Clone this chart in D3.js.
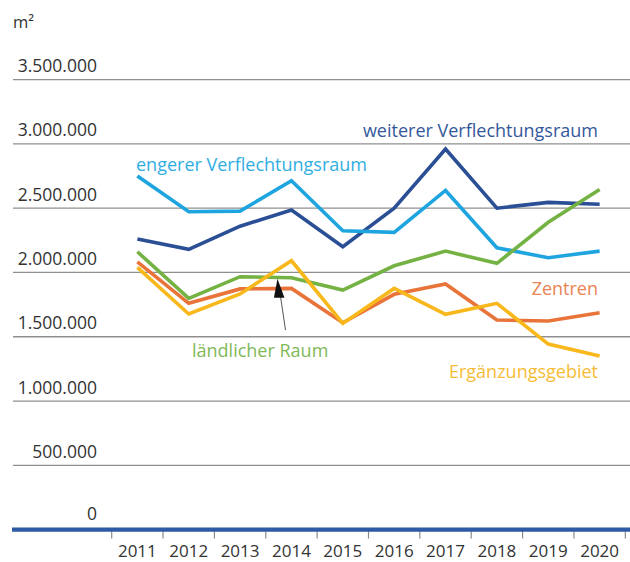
<!DOCTYPE html>
<html>
<head>
<meta charset="utf-8">
<script src="https://cdn.jsdelivr.net/npm/d3@7"></script>
<style>
  html, body { margin: 0; padding: 0; background: #fff; }
  svg { display: block; font-family: "Open Sans", "Noto Sans", sans-serif; }
</style>
</head>
<body>
<svg id="chart" width="630" height="562"></svg>
<script>
// Flächenzahlen (m²) nach Teilraum, 2011–2020
const years = ["2011", "2012", "2013", "2014", "2015", "2016", "2017", "2018", "2019", "2020"];

const weitererVerflechtungsraum = [2260000, 2180000, 2360000, 2485000, 2200000, 2500000, 2960000, 2500000, 2545000, 2530000];
const engererVerflechtungsraum  = [2750000, 2472000, 2477000, 2713000, 2324000, 2312000, 2638000, 2192000, 2114000, 2166000];
const zentren                   = [2083000, 1760000, 1872000, 1876000, 1609000, 1830000, 1910000, 1630000, 1622000, 1687000];
const laendlicherRaum           = [2161000, 1799000, 1967000, 1959000, 1863000, 2052000, 2166000, 2071000, 2390000, 2646000];
const ergaenzungsgebiet         = [2040000, 1677000, 1833000, 2091000, 1604000, 1876000, 1674000, 1760000, 1443000, 1350000];

const yTicks = [0, 500000, 1000000, 1500000, 2000000, 2500000, 3000000, 3500000];
const yTickLabels = ["0", "500.000", "1.000.000", "1.500.000", "2.000.000", "2.500.000", "3.000.000", "3.500.000"];
const unitLabel = "m²";

const series = [
  { name: "weiterer Verflechtungsraum", values: weitererVerflechtungsraum, color: "#2b4f95", text: "#34589c" },
  { name: "engerer Verflechtungsraum",  values: engererVerflechtungsraum,  color: "#1ea5df", text: "#30aee2" },
  { name: "Zentren",                    values: zentren,                   color: "#e8743a", text: "#e98453" },
  { name: "ländlicher Raum",            values: laendlicherRaum,           color: "#74b244", text: "#80b958" },
  { name: "Ergänzungsgebiet",           values: ergaenzungsgebiet,         color: "#f8b81c", text: "#f6bc35" }
];

const svg = d3.select("#chart");

const x = d3.scaleBand().domain(years).range([111.7, 625.3]).padding(0);
const y = d3.scaleLinear().domain([0, 3500000]).range([529.6, 79.6]);
const cx = d => x(d) + x.bandwidth() / 2;

// unit label
svg.append("text")
  .attr("x", 13).attr("y", 28)
  .attr("font-size", 16.5).attr("fill", "#333")
  .text(unitLabel);

// horizontal grid with value labels
const grid = svg.append("g");
grid.selectAll("line")
  .data(yTicks.filter(v => v > 0))
  .join("line")
  .attr("x1", 13).attr("x2", 630)
  .attr("y1", d => y(d)).attr("y2", d => y(d))
  .attr("stroke", "#8f8f8f").attr("stroke-width", 1.3);

grid.selectAll("text")
  .data(yTicks)
  .join("text")
  .attr("x", 97)
  .attr("y", d => y(d) - (d === 0 ? 9.5 : 7.5))
  .attr("text-anchor", "end")
  .attr("font-size", 17.5)
  .attr("fill", "#333")
  .text((d, i) => yTickLabels[i]);

// year axis: ticks at band boundaries, labels centred in each band
const edges = years.map(d => x(d)).concat([x.range()[1]]);
svg.append("g").selectAll("line")
  .data(edges)
  .join("line")
  .attr("x1", d => d).attr("x2", d => d)
  .attr("y1", 530).attr("y2", 538.5)
  .attr("stroke", "#8a8a8a").attr("stroke-width", 1.2);

svg.append("g").selectAll("text")
  .data(years)
  .join("text")
  .attr("x", d => cx(d))
  .attr("y", 557)
  .attr("text-anchor", "middle")
  .attr("font-size", 17)
  .attr("fill", "#333")
  .text(d => d);

// baseline
svg.append("line")
  .attr("x1", 12).attr("x2", 630)
  .attr("y1", y(0)).attr("y2", y(0))
  .attr("stroke", "#2c5aa3").attr("stroke-width", 4.2);

// series lines
const line = d3.line()
  .x((v, i) => cx(years[i]))
  .y(v => y(v));

const drawOrder = ["weiterer Verflechtungsraum", "engerer Verflechtungsraum", "Zentren", "ländlicher Raum", "Ergänzungsgebiet"];
svg.append("g").selectAll("path")
  .data(drawOrder.map(n => series.find(s => s.name === n)))
  .join("path")
  .attr("d", s => line(s.values))
  .attr("fill", "none")
  .attr("stroke", s => s.color)
  .attr("stroke-width", 3.6)
  .attr("stroke-linejoin", "miter")
  .attr("stroke-linecap", "butt");

// series labels
const labelPos = {
  "weiterer Verflechtungsraum": { x: 598, y: 136.5, anchor: "end" },
  "engerer Verflechtungsraum":  { x: 136, y: 171, anchor: "start" },
  "Zentren":                    { x: 598, y: 295, anchor: "end" },
  "ländlicher Raum":            { x: 192, y: 357, anchor: "start" },
  "Ergänzungsgebiet":           { x: 598, y: 378, anchor: "end" }
};
svg.append("g").selectAll("text")
  .data(series)
  .join("text")
  .attr("x", s => labelPos[s.name].x)
  .attr("y", s => labelPos[s.name].y)
  .attr("text-anchor", s => labelPos[s.name].anchor)
  .attr("font-size", 18)
  .attr("fill", s => s.text)
  .text(s => s.name);

// pointer from the "ländlicher Raum" label to its line
const tipX = cx("2014") - 14, tipY = y(laendlicherRaum[3]) + 1;
svg.append("line")
  .attr("x1", 285.5).attr("y1", 330)
  .attr("x2", tipX + 2.5).attr("y2", tipY + 14)
  .attr("stroke", "#555").attr("stroke-width", 1);
svg.append("path")
  .attr("d", `M${tipX},${tipY} L${tipX + 7},${tipY + 19} L${tipX - 3.5},${tipY + 19} Z`)
  .attr("fill", "#111");
</script>
</body>
</html>
